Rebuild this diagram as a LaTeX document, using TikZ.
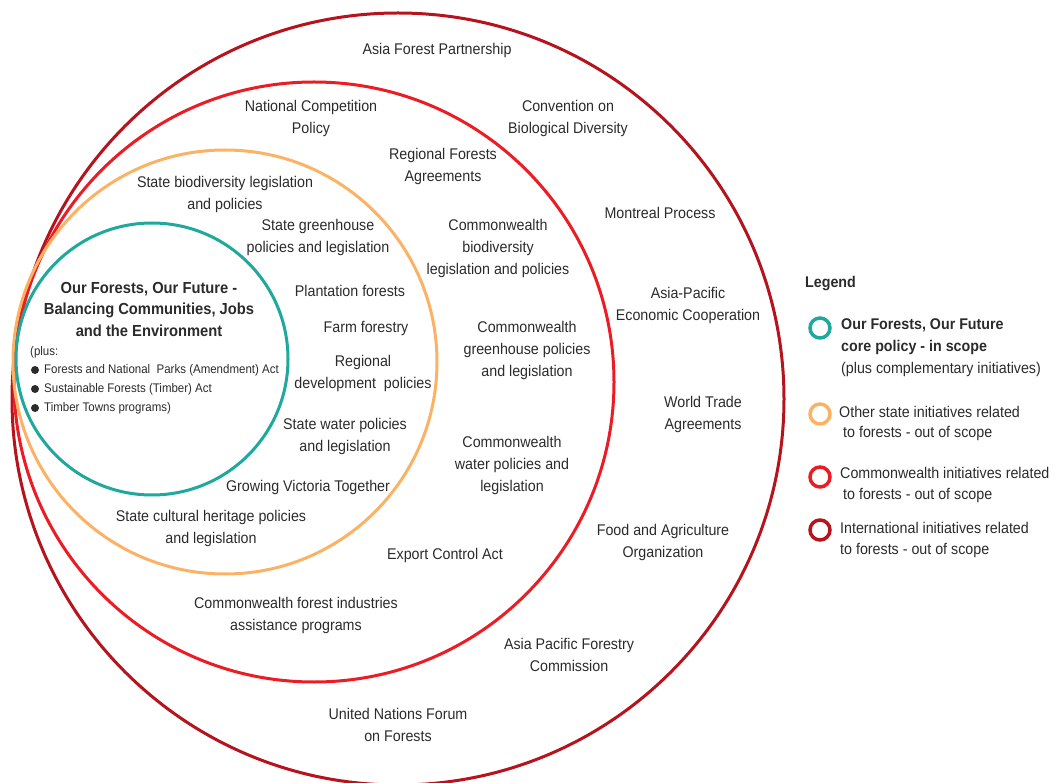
\documentclass[tikz,border=0pt]{standalone}
\usepackage{fontspec}
\setmainfont{Liberation Sans}[FakeStretch=0.92]
\definecolor{cteal}{HTML}{1FA89B}
\definecolor{corange}{HTML}{FBB265}
\definecolor{cred}{HTML}{EC1C24}
\definecolor{cdark}{HTML}{B5141E}
\definecolor{ctext}{HTML}{2B2B2B}
\begin{document}
\begin{tikzpicture}[x=1pt,y=-1pt,
  lbl/.style={align=center, font=\fontsize{15.5}{22}\selectfont, inner sep=0pt, text=ctext},
  bl/.style={align=center, font=\bfseries\fontsize{16}{21.5}\selectfont, inner sep=0pt, text=ctext},
  sm/.style={anchor=west, font=\fontsize{12.5}{15}\selectfont, inner sep=0pt, text=ctext},
  leg/.style={anchor=west, align=left, font=\fontsize{15.5}{22}\selectfont, inner sep=0pt, text=ctext},
  legb/.style={anchor=west, align=left, font=\bfseries\fontsize{15.5}{22}\selectfont, inner sep=0pt, text=ctext},
  ring/.style={line width=3pt}]
\useasboundingbox (0,0) rectangle (1055,783);
% rings
\draw[ring, cdark] (398,399) circle[radius=386pt];
\draw[ring, cred] (314,382) circle[radius=300pt];
\draw[ring, corange] (225,362) circle[radius=212pt];
\draw[ring, cteal] (152,359) circle[radius=136pt];
% international
\node[lbl] (afp) at (437,50) {Asia Forest Partnership};
\node[lbl] (cbd) at (568,118) {Convention on\\Biological Diversity};
\node[lbl] (mp) at (660,213) {Montreal Process};
\node[lbl] (apec) at (688,305) {Asia-Pacific\\Economic Cooperation};
\node[lbl] (wta) at (703,414) {World Trade\\Agreements};
\node[lbl] (fao) at (663,542) {Food and Agriculture\\Organization};
\node[lbl] (apfc) at (569,655) {Asia Pacific Forestry\\Commission};
\node[lbl] (unff) at (398,725) {United Nations Forum\\on Forests};
% commonwealth
\node[lbl] (ncp) at (311,118) {National Competition\\Policy};
\node[lbl] (rfa) at (443,166) {Regional Forests\\Agreements};
\node[lbl] (cbio) at (498,248) {Commonwealth\\biodiversity\\legislation and policies};
\node[lbl] (cgh) at (527,350) {Commonwealth\\greenhouse policies\\and legislation};
\node[lbl] (cwat) at (512,465) {Commonwealth\\water policies and\\legislation};
\node[lbl] (eca) at (445,555) {Export Control Act};
\node[lbl] (cfi) at (296,615) {Commonwealth forest industries\\assistance programs};
% state
\node[lbl] (sbio) at (225,194) {State biodiversity legislation\\and policies};
\node[lbl] (sgh) at (318,237) {State greenhouse\\policies and legislation};
\node[lbl] (pf) at (350,291) {Plantation forests};
\node[lbl] (ff) at (366,329) {Farm forestry};
\node[lbl] (rdp) at (363,373) {Regional\\development\ \ policies};
\node[lbl] (swat) at (345,436) {State water policies\\and legislation};
\node[lbl] (gvt) at (308,487) {Growing Victoria Together};
\node[lbl] (sch) at (211,528) {State cultural heritage policies\\and legislation};
% core
\node[bl] (core) at (149,309) {Our Forests, Our Future -\\Balancing Communities, Jobs\\and the Environment};
\node[sm] (plus) at (30,352) {(plus:};
\node[sm] (b1) at (44,370) {Forests and National\ \ Parks (Amendment) Act};
\node[sm] (b2) at (44,389) {Sustainable Forests (Timber) Act};
\node[sm] (b3) at (44,408) {Timber Towns programs)};
\fill[ctext] (35,370) circle[radius=4pt];
\fill[ctext] (35,389) circle[radius=4pt];
\fill[ctext] (35,408) circle[radius=4pt];
% legend
\node[legb] (legt) at (805,284) {Legend};
\draw[line width=3.5pt, cteal] (820,328) circle[radius=10pt];
\draw[line width=3.5pt, corange] (820,414) circle[radius=10pt];
\draw[line width=3.5pt, cred] (820,477) circle[radius=10pt];
\draw[line width=3.5pt, cdark] (820,530) circle[radius=10pt];
\node[legb] (l1a) at (841,325) {Our Forests, Our Future};
\node[legb] (l1b) at (841,347) {core policy - in scope};
\node[leg] (l1c) at (841,369) {(plus complementary initiatives)};
\node[leg] (l2a) at (839,412) {Other state initiatives related};
\node[leg] (l2b) at (843,434) {to forests - out of scope};
\node[leg] (l3a) at (840,473) {Commonwealth initiatives related};
\node[leg] (l3b) at (843,495) {to forests - out of scope};
\node[leg] (l4a) at (840,528) {International initiatives related};
\node[leg] (l4b) at (840,550) {to forests - out of scope};
\end{tikzpicture}
\end{document}
